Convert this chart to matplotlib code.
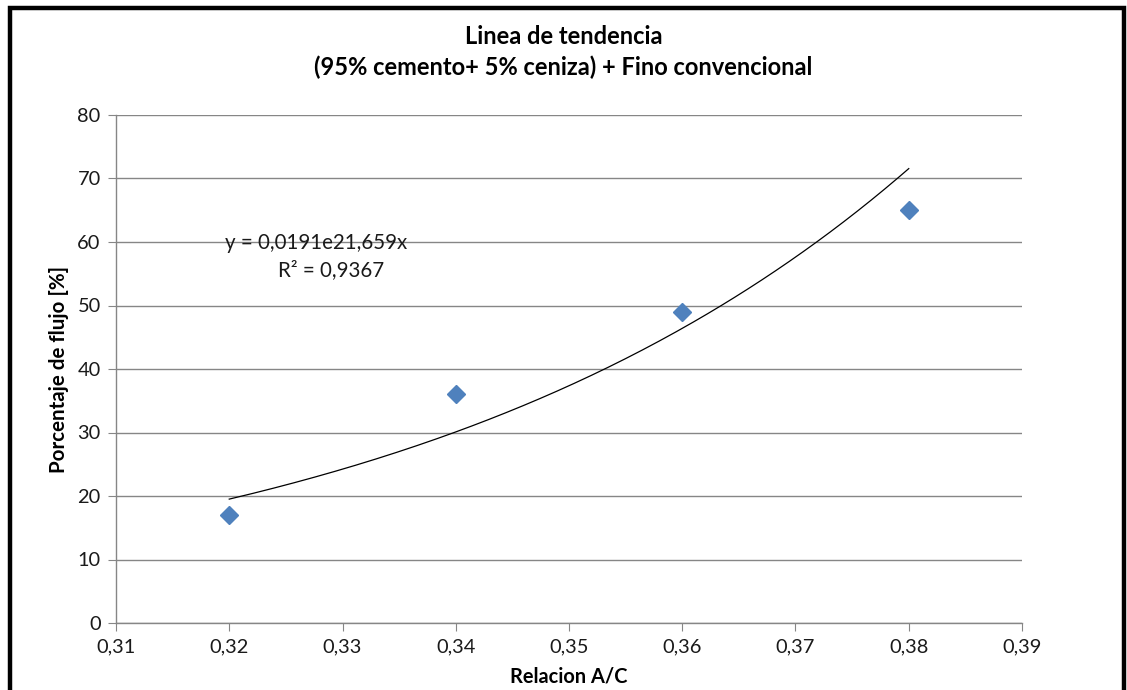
#!/usr/bin/env python3
"""Linea de tendencia - flujo vs relacion A/C"""

import matplotlib
matplotlib.use('Agg')
import matplotlib.pyplot as plt
import matplotlib.patches as mpatches
import matplotlib.ticker as mticker
import numpy as np

plt.rcParams.update({
    'font.family': ['Lato', 'DejaVu Sans'],
    'font.size': 12,
})

# data
relacion_ac = [0.32, 0.34, 0.36, 0.38]
flujo = [17, 36, 49, 65]

x_ticks = [0.31, 0.32, 0.33, 0.34, 0.35, 0.36, 0.37, 0.38, 0.39]
y_ticks = [0, 10, 20, 30, 40, 50, 60, 70, 80]

title = 'Linea de tendencia\n(95% cemento+ 5% ceniza) + Fino convencional'
x_label = 'Relacion A/C'
y_label = 'Porcentaje de flujo [%]'

# exponential trendline, fitted like Excel does (least squares on ln y)
b, ln_a = np.polyfit(relacion_ac, np.log(flujo), 1)
a = np.exp(ln_a)
r2 = np.corrcoef(relacion_ac, np.log(flujo))[0, 1] ** 2

fig = plt.figure(figsize=(11.27, 6.9), dpi=100)
ax = fig.add_axes([116 / 1127, 1 - 623 / 690, (1022 - 116) / 1127, (623 - 115) / 690])

grey = '#868686'
ax.grid(True, axis='y', color=grey, linewidth=1)
ax.set_axisbelow(True)

xt = np.linspace(min(relacion_ac), max(relacion_ac), 200)
ax.plot(xt, a * np.exp(b * xt), color='black', linewidth=0.9, zorder=2)
ax.plot(relacion_ac, flujo, linestyle='none', marker='D', markersize=9.5,
        color='#4F81BD', markeredgecolor='#4F81BD', zorder=3)

ax.set_xlim(0.31, 0.39)
ax.set_ylim(0, 80)
ax.set_xticks(x_ticks)
ax.set_yticks(y_ticks)
ax.xaxis.set_major_formatter(mticker.FuncFormatter(lambda v, p: f'{v:.2f}'.replace('.', ',')))
ax.tick_params(axis='both', direction='out', length=6, color=grey, labelsize=14.4,
               labelcolor='#1a1a1a', pad=5)

for side in ('top', 'right'):
    ax.spines[side].set_visible(False)
for side in ('left', 'bottom'):
    ax.spines[side].set_color(grey)
    ax.spines[side].set_linewidth(1)

ax.set_xlabel(x_label, fontsize=14.4, fontweight='bold', labelpad=8)
ax.set_ylabel(y_label, fontsize=14.8, fontweight='bold', labelpad=6)

fig.text(0.5, 1 - 52 / 690, title, ha='center', va='center', fontsize=17,
         fontweight='bold', linespacing=1.4)

eq = f'y = {a:.4f}e{b:.3f}x'.replace('.', ',')
r2_txt = f'R² = {r2:.4f}'.replace('.', ',')
ax.text(0.3277, 59.8, eq, ha='center', va='center', fontsize=14.8, color='#1a1a1a')
ax.text(0.3290, 55.6, r2_txt, ha='center', va='center', fontsize=14.8, color='#1a1a1a')

# black frame around the chart (bottom edge is cut off in the original)
frame = mpatches.Rectangle((9.5 / 1127, -0.05), (1123.5 - 9.5) / 1127, 1.05 - 7.5 / 690,
                           transform=fig.transFigure, fill=False, edgecolor='black',
                           linewidth=3.2)
fig.patches.append(frame)

fig.savefig('out.png', dpi=100)
